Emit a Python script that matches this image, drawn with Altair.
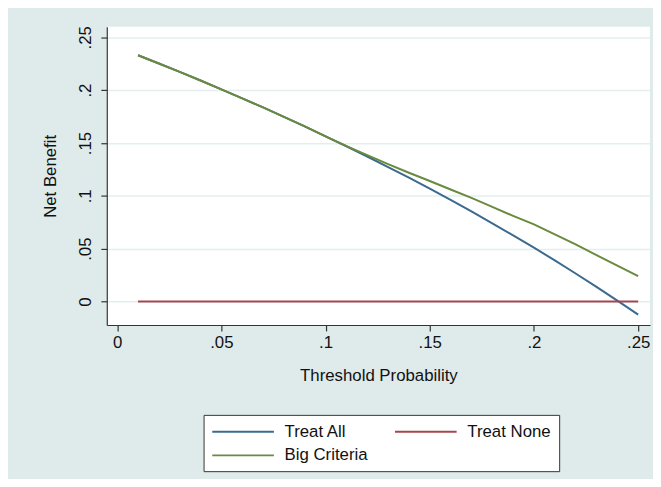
import altair as alt
import pandas as pd

thresholds = [0.01, 0.02, 0.03, 0.04, 0.05, 0.06, 0.07, 0.08, 0.09, 0.10, 0.11, 0.12, 0.13,
              0.14, 0.15, 0.16, 0.17, 0.18, 0.19, 0.20, 0.21, 0.22, 0.23, 0.24, 0.25]
treat_all = [0.2330, 0.2252, 0.2172, 0.2091, 0.2007, 0.1922, 0.1836, 0.1747, 0.1656, 0.1563,
             0.1469, 0.1372, 0.1272, 0.1171, 0.1067, 0.0961, 0.0852, 0.0740, 0.0626, 0.0509,
             0.0389, 0.0265, 0.0139, 0.0009, -0.0124]
treat_none = [0.0] * 25
big_criteria = [0.2330, 0.2252, 0.2172, 0.2091, 0.2007, 0.1922, 0.1836, 0.1747, 0.1656, 0.1563,
                0.1470, 0.1385, 0.1300, 0.1218, 0.1140, 0.1060, 0.0980, 0.0895, 0.0810, 0.0730,
                0.0635, 0.0540, 0.0440, 0.0340, 0.0240]

# legend is filled column by column: Treat All / Big Criteria in column 1, Treat None in column 2
series = ["Treat All", "Big Criteria", "Treat None"]
colors = ["#3b6a8e", "#6a8a3e", "#a3464e"]

rows = []
for name, vals in [("Treat All", treat_all), ("Treat None", treat_none), ("Big Criteria", big_criteria)]:
    for t, v in zip(thresholds, vals):
        rows.append({"series": name, "threshold": t, "nb": v})
df = pd.DataFrame(rows)

x_ticks = [0, 0.05, 0.10, 0.15, 0.20, 0.25]
y_ticks = [0, 0.05, 0.10, 0.15, 0.20, 0.25]
lab = "replace(format(datum.value, '~g'), '0.', '.')"
FONT = "Liberation Sans"
FS = 17

chart = alt.Chart(df).mark_line(strokeWidth=2).encode(
    x=alt.X("threshold:Q",
            scale=alt.Scale(domain=[-0.005, 0.2557], nice=False, zero=False),
            axis=alt.Axis(values=x_ticks, labelExpr=lab, title="Threshold Probability",
                          grid=False, tickSize=6, labelPadding=4, titlePadding=17)),
    y=alt.Y("nb:Q",
            scale=alt.Scale(domain=[-0.0222, 0.260], nice=False, zero=False),
            axis=alt.Axis(values=y_ticks, labelExpr=lab, title="Net Benefit",
                          labelAngle=270, tickSize=6, labelPadding=6, titlePadding=18)),
    color=alt.Color("series:N",
                    scale=alt.Scale(domain=series, range=colors),
                    sort=series,
                    legend=alt.Legend(orient="none", legendX=98, legendY=393, columns=2,
                                      title=None, symbolType="M-3.9,0H3.9", symbolSize=256,
                                      symbolStrokeWidth=2, symbolOffset=23,
                                      labelFontSize=FS, labelFont=FONT, labelColor="#111",
                                      padding=8, strokeColor="#333", fillColor="white",
                                      columnPadding=22, rowPadding=7, labelOffset=33)),
    order=alt.Order("threshold:Q"),
).properties(
    width=550, height=302,
    padding={"left": 100, "top": 16, "right": 3, "bottom": 153},
    autosize=alt.AutoSizeParams(type="none"),
    background="#dfeaea",
).configure_view(
    fill="white", stroke=None
).configure_axis(
    labelFont=FONT, titleFont=FONT,
    labelFontSize=FS, titleFontSize=FS, titleFontWeight="normal",
    labelColor="#111", titleColor="#111",
    domainColor="#333", tickColor="#333", domainWidth=1.2, tickWidth=1.2,
    gridColor="#e4eeee", gridWidth=1.5,
)

chart.save("out.html", embed_options={"renderer": "svg", "actions": False})
